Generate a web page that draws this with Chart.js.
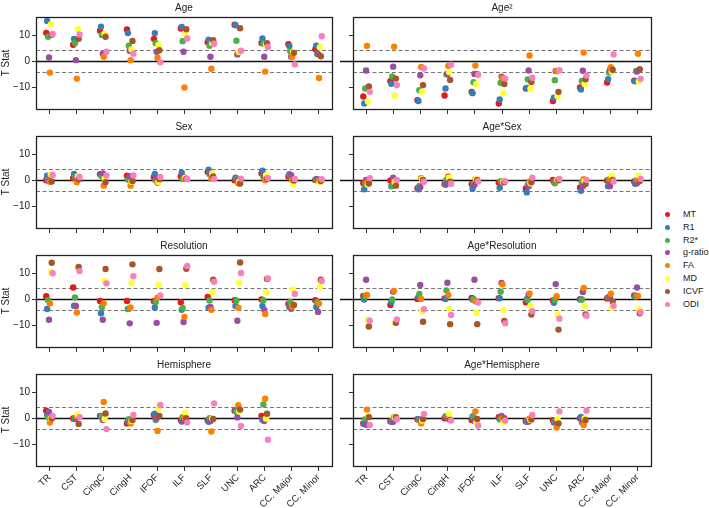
<!DOCTYPE html>
<html>
<head>
<meta charset="utf-8">
<script src="https://cdn.jsdelivr.net/npm/chart.js@4/dist/chart.umd.min.js"></script>
<style>
  body { margin: 0; background: #fff; font-family: "Liberation Sans", Arial, sans-serif; }
  #wrap { position: relative; width: 709px; height: 508px; overflow: hidden; }
  #wrap canvas { position: absolute; }
  #legend { position: absolute; left: 662px; top: 208px; font-size: 9px; color: #222; }
  .li { position: relative; height: 12.8px; line-height: 12.8px; padding-left: 21px; white-space: nowrap; }
  .li i { position: absolute; left: 3px; top: 4px; width: 5px; height: 5px; border-radius: 50%; }
</style>
</head>
<body>
<div id="wrap"><div id="legend"></div></div>
<script>
/* ---------- data ---------- */
const TRACTS = ['TR', 'CST', 'CingC', 'CingH', 'IFOF', 'ILF', 'SLF', 'UNC', 'ARC', 'CC. Major', 'CC. Minor'];
const SERIES = ['MT', 'R1', 'R2*', 'g-ratio', 'FA', 'MD', 'ICVF', 'ODI'];
const Y_TICKS = [-10, 0, 10];
const CUTOFF = 4.3;   // dashed significance lines at +/- this T value

// one row per series (MT, R1, R2*, g-ratio, FA, MD, ICVF, ODI), one value per tract
const age = [
  [10.9, 6.3, 11.7, 12.2, 8.6, 12.6, 7.3, 14.0, 7.0, 6.5, 4.6],
  [15.5, 8.6, 13.3, 10.8, 10.8, 13.2, 8.3, 13.8, 8.7, 5.8, 6.0],
  [9.4, 7.0, 10.1, 6.0, 6.9, 7.7, 5.9, 7.9, 6.8, 3.8, 2.9],
  [1.4, 0.4, 2.9, 4.0, 3.6, 3.6, 1.7, 2.6, 1.7, 1.7, 2.7],
  [-4.4, -6.7, 1.7, 0.4, 1.3, -10.1, -2.9, 3.3, -4.0, 1.7, -6.5],
  [14.1, 12.4, 10.6, 4.5, 6.2, 10.5, 7.0, 3.6, 6.5, 3.5, 5.4],
  [10.2, 8.6, 9.4, 7.8, 4.2, 12.3, 8.1, 12.7, 6.9, 3.2, 1.9],
  [10.5, 10.3, 3.6, 2.9, -0.4, 8.7, 6.7, 4.0, 5.5, -1.3, 9.6]
];
const ageSq = [
  [-13.6, -7.7, -15.0, -13.2, -11.8, -16.3, -10.5, -15.3, -10.1, -8.2, -7.5],
  [-16.3, -8.7, -15.3, -10.5, -12.3, -14.7, -10.3, -14.1, -10.9, -6.9, -7.7],
  [-10.5, -5.9, -11.2, -5.0, -8.1, -8.3, -7.0, -7.3, -7.6, -4.4, -3.8],
  [-3.6, -2.1, -5.4, -5.0, -4.9, -6.0, -3.6, -3.8, -3.7, -3.5, -4.0],
  [5.9, 5.6, -2.2, -1.8, -1.7, -6.5, 2.2, -3.8, 3.3, -2.3, 2.9],
  [-15.5, -13.3, -11.7, -4.2, -8.8, -12.3, -10.6, -13.5, -8.8, -4.0, -7.8],
  [-9.7, -6.7, -9.2, -7.2, -5.0, -8.8, -8.0, -11.8, -7.0, -3.3, -3.1],
  [-11.8, -9.2, -2.8, -1.4, -5.2, -6.7, -6.4, -3.5, -5.5, 2.6, -6.8]
];
const sex = [
  [0.0, 0.8, 2.3, 1.7, 1.2, 1.4, 3.1, 0.0, 2.7, 1.4, 0.1],
  [1.7, 2.4, 2.0, 0.4, 2.4, 2.9, 4.0, 1.0, 3.6, 2.3, 0.5],
  [0.1, 1.2, 1.4, 0.1, -0.1, 0.5, 2.3, 0.5, 1.4, 1.7, 0.0],
  [-0.3, 1.0, 2.6, 1.5, 0.8, 1.2, 2.7, 0.1, 1.7, 1.9, 0.3],
  [-0.6, -0.8, -2.1, -2.1, -1.0, 0.8, 0.6, -1.2, 0.0, 0.0, -0.1],
  [2.3, 1.4, 0.6, -0.6, -0.6, 1.0, 2.6, -0.5, 1.9, -1.5, -0.9],
  [-0.5, 0.4, -0.8, -0.3, 0.4, 0.6, 1.4, -1.3, 0.6, -0.1, -0.3],
  [2.0, 1.2, 1.8, 1.8, 1.2, 0.5, 0.5, 0.6, 0.8, 0.5, 0.4]
];
const ageSex = [
  [-1.2, -0.1, -3.1, -1.5, -1.5, -0.9, -3.2, 0.1, -2.8, -0.1, -0.5],
  [-3.5, -2.3, -3.5, -1.8, -3.3, -2.9, -4.7, -0.6, -4.1, -2.3, -1.4],
  [-1.4, -2.1, -2.2, 0.1, -1.4, -0.4, -1.8, -1.2, -0.8, 0.3, -0.1],
  [0.1, 1.0, -2.7, -1.2, -1.8, -0.9, -2.4, -0.1, -2.3, -2.3, -1.2],
  [-0.9, -0.5, 0.8, 1.4, 0.4, -0.6, -0.5, 0.1, 0.4, 0.6, 0.1],
  [-1.8, -0.8, 0.4, 0.9, 0.6, -0.6, -1.2, 0.0, -0.4, 1.7, 1.7],
  [-1.3, -2.1, 0.1, -0.6, 0.1, -0.8, -0.8, 0.0, -1.5, 0.1, -0.3],
  [0.8, 0.1, -0.6, -1.4, -0.4, -0.4, 1.0, 0.5, 0.1, -0.5, 0.5]
];
const resolution = [
  [1.1, 4.5, -0.7, -0.7, -0.8, -1.2, 0.9, -0.4, -0.1, -1.8, -0.4],
  [-3.8, -2.5, -5.4, -3.8, -3.2, -4.1, -3.3, -2.6, -2.6, -3.0, -3.0],
  [-0.4, 0.7, -3.0, -3.7, -1.1, -3.4, -0.5, -0.5, -0.4, -1.1, -1.1],
  [-7.9, -2.6, -7.9, -9.3, -9.1, -8.8, -3.0, -8.3, -4.1, -3.7, -4.9],
  [-1.7, -5.1, -1.6, -3.2, 0.7, -6.8, -4.1, -3.3, -5.7, -2.8, -1.7],
  [10.5, 12.1, 7.0, 6.2, 5.5, 5.4, 2.8, 6.2, 2.6, 3.7, 4.7],
  [14.0, 12.4, 11.6, 13.4, 11.6, 11.7, 7.5, 14.1, 7.8, -2.2, 7.5],
  [10.0, 10.8, 6.1, 8.8, 1.4, 12.8, 6.7, 10.1, 8.0, 2.0, 7.0]
];
const ageResolution = [
  [1.2, -2.2, 0.1, 0.3, 0.5, 0.4, -1.2, -0.5, 0.0, 0.3, 1.4],
  [-0.1, -1.1, 0.8, 0.1, -0.1, 0.4, 0.0, -1.4, -0.1, 0.7, 0.9],
  [1.2, -0.1, 2.0, 3.4, 0.1, 2.9, -0.3, -0.3, -0.1, 0.9, 1.3],
  [7.5, 2.9, 5.5, 6.3, 7.5, 6.2, 1.7, 5.8, 2.8, 1.0, 4.5],
  [1.6, 3.2, 0.1, 1.6, -0.8, 5.7, 2.2, 1.1, 4.3, 2.1, 1.2],
  [-7.9, -9.1, -4.7, -3.8, -5.1, -4.2, -2.5, -5.9, -2.5, -3.4, -3.9],
  [-10.5, -9.1, -8.7, -9.6, -9.6, -8.4, -5.9, -11.7, -5.9, -0.9, -5.4],
  [-8.3, -7.8, -3.9, -6.1, -1.3, -9.3, -4.6, -7.5, -6.4, -2.5, -5.0]
];
// no hemisphere terms for the callosal tracts
const hemisphere = [
  [2.9, -0.1, 0.9, -2.0, 1.3, -0.7, -0.8, 2.9, 0.9],
  [1.3, -0.3, 0.7, -1.3, 1.7, -1.3, -1.4, 3.0, -0.7],
  [0.4, 0.0, 0.9, -0.4, -0.7, 0.4, 0.0, 2.4, 5.3],
  [2.4, -0.1, -0.7, -1.6, 0.0, -1.1, -1.1, 0.3, -1.1],
  [-1.7, 0.7, 6.2, -2.0, -4.9, 0.4, -5.1, 5.0, 7.5],
  [-0.1, 1.4, -0.3, -1.1, 3.6, 2.2, -0.1, 2.6, -0.1],
  [-0.1, -2.2, 1.8, -0.7, 0.9, 0.0, -0.3, 3.3, 1.7],
  [0.9, 0.4, -4.2, 1.2, 5.1, -1.7, 5.7, -3.0, -8.3]
];
const ageHemisphere = [
  [-2.0, -1.2, -0.4, 0.0, -0.7, 0.4, -1.2, -0.8, 0.0],
  [-2.2, -1.4, -0.4, 0.7, 0.7, -0.4, -1.4, -1.7, 0.5],
  [-0.4, -1.1, -0.7, 0.4, 0.3, -0.1, -1.1, -1.2, -1.7],
  [-2.5, -1.4, -0.7, 0.0, -1.1, 0.9, -1.3, -1.3, -0.9],
  [3.3, 0.4, -2.0, 0.9, 2.6, -0.1, -0.1, -3.6, -2.6],
  [0.9, 0.3, -0.9, 1.7, -1.6, -1.6, -0.7, -0.3, -0.1],
  [0.4, 0.4, -0.3, -0.7, -0.3, 0.0, -0.5, -2.0, -0.7],
  [-2.6, -0.4, 1.6, -0.9, -2.8, -0.9, 1.2, 2.6, 2.9]
];

const PANELS = [
  { title: 'Age', rows: age },
  { title: 'Age\u00b2', rows: ageSq },
  { title: 'Sex', rows: sex },
  { title: 'Age*Sex', rows: ageSex },
  { title: 'Resolution', rows: resolution },
  { title: 'Age*Resolution', rows: ageResolution },
  { title: 'Hemisphere', rows: hemisphere },
  { title: 'Age*Hemisphere', rows: ageHemisphere }
];

/* ---------- style ---------- */
const COLORS = ['#e41a1c', '#377eb8', '#4daf4a', '#984ea3', '#ff7f00', '#ffff33', '#a65628', '#f781bf'];
const JITTER = SERIES.map((_, s) => (s - 3.5) * 0.034);
const INK = '#222';

Chart.defaults.font.family = '"Liberation Sans", Arial, sans-serif';
Chart.defaults.font.size = 10;
Chart.defaults.color = INK;

/* box, zero line, dashed cut-offs and panel title */
const frame = {
  id: 'frame',
  beforeDatasetsDraw(chart, args, opts) {
    const { ctx, chartArea: a, scales: { y } } = chart;
    ctx.save();
    ctx.strokeStyle = '#777'; ctx.lineWidth = 1; ctx.setLineDash([4, 2.5]);
    [CUTOFF, -CUTOFF].forEach(v => {
      const py = Math.round(y.getPixelForValue(v)) + 0.5;
      ctx.beginPath(); ctx.moveTo(a.left, py); ctx.lineTo(a.right, py); ctx.stroke();
    });
    ctx.setLineDash([]); ctx.strokeStyle = '#111'; ctx.lineWidth = 1.3;
    const z = Math.round(y.getPixelForValue(0)) + 0.5;
    ctx.beginPath(); ctx.moveTo(a.left - opts.zeroExt, z); ctx.lineTo(a.right, z); ctx.stroke();
    ctx.restore();
  },
  afterDraw(chart, args, opts) {
    const { ctx, chartArea: a } = chart;
    ctx.save();
    ctx.strokeStyle = '#222'; ctx.lineWidth = 1.3;
    ctx.strokeRect(Math.round(a.left) + 0.5, Math.round(a.top) + 0.5, Math.round(a.right - a.left), Math.round(a.bottom - a.top));
    ctx.fillStyle = INK; ctx.font = '10px "Liberation Sans", Arial, sans-serif';
    ctx.textAlign = 'center'; ctx.textBaseline = 'middle';
    ctx.fillText(opts.title, (a.left + a.right) / 2, a.top - 8.5);
    ctx.restore();
  }
};

function makeDatasets(rows) {
  return rows.map((vals, s) => ({
    label: SERIES[s],
    data: vals.map((v, i) => ({ x: i + JITTER[s], y: v })),
    backgroundColor: COLORS[s],
    pointRadius: 3.2,
    pointBorderWidth: 0,
    order: SERIES.length - s
  }));
}

const wrap = document.getElementById('wrap');

PANELS.forEach((p, idx) => {
  const row = Math.floor(idx / 2), col = idx % 2;
  const last = row === 3;
  const cv = document.createElement('canvas');
  const w = col === 0 ? 340 : 320, h = last ? 151 : 119;
  cv.width = w; cv.height = h;
  cv.style.left = (col === 0 ? 0 : 340) + 'px';
  cv.style.top = (row * 119) + 'px';
  cv.style.width = w + 'px'; cv.style.height = h + 'px';
  wrap.appendChild(cv);

  const yWidth = col === 0 ? 36 : 13;
  const xHeight = last ? 42 : 10;

  new Chart(cv, {
    type: 'scatter',
    data: { datasets: makeDatasets(p.rows) },
    plugins: [frame],
    options: {
      responsive: false,
      animation: false,
      layout: { padding: { left: 0, right: col === 0 ? 8 : 9, top: 17, bottom: 0 } },
      plugins: {
        legend: { display: false },
        tooltip: { enabled: false },
        frame: { title: p.title, zeroExt: col === 0 ? 0 : 21 }
      },
      scales: {
        x: {
          type: 'linear', min: -0.5, max: 10.5,
          afterBuildTicks: s => { s.ticks = TRACTS.map((_, i) => ({ value: i })); },
          afterFit: s => { s.height = xHeight; },
          border: { display: false },
          grid: { drawOnChartArea: false, tickLength: 5, color: '#333' },
          ticks: {
            display: last, autoSkip: false, maxRotation: 45, minRotation: 45, padding: 1,
            font: { size: 9.5 },
            callback: (v, i) => TRACTS[i]
          }
        },
        y: {
          min: -18.4, max: 17,
          afterBuildTicks: s => { s.ticks = Y_TICKS.map(v => ({ value: v })); },
          afterFit: s => { s.width = yWidth; },
          border: { display: false },
          grid: { drawOnChartArea: false, tickLength: 4, color: '#333' },
          ticks: {
            display: col === 0, padding: 2,
            callback: v => v < 0 ? '\u2212' + Math.abs(v) : String(v)
          },
          title: { display: col === 0, text: 'T Stat', padding: 0 }
        }
      }
    }
  });
});

/* legend */
const legend = document.getElementById('legend');
SERIES.forEach((name, s) => {
  const d = document.createElement('div');
  d.className = 'li';
  d.innerHTML = `<i style="background:${COLORS[s]}"></i>${name}`;
  legend.appendChild(d);
});
</script>
</body>
</html>
